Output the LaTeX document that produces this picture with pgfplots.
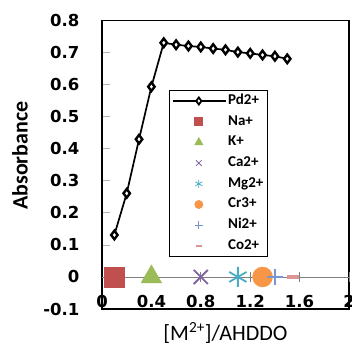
\documentclass[border=0pt]{standalone}
\usepackage{pgfplots}
\pgfplotsset{compat=1.18}
\usepackage{fontspec}
\setmainfont{Carlito}
\newfontfamily\tickfont{DejaVu Sans}
\definecolor{na}{RGB}{192,80,77}
\definecolor{kk}{RGB}{155,187,89}
\definecolor{ca}{RGB}{128,100,162}
\definecolor{mg}{RGB}{75,172,198}
\definecolor{cr}{RGB}{247,150,70}
\definecolor{ni}{RGB}{120,150,205}
\definecolor{co}{RGB}{217,150,148}
\pgfplotsset{mylegend/.style={legend image code/.code={\draw[mark repeat=2,mark phase=2,##1] plot coordinates {(0pt,0pt) (26pt,0pt) (53pt,0pt)};}}}
\begin{document}
\begin{tikzpicture}
\begin{axis}[
  scale only axis,
  width=247pt, height=288.3pt,
  xmin=0, xmax=2, ymin=-0.1, ymax=0.8,
  xtick={0,0.4,0.8,1.2,1.6,2},
  ytick={-0.1,0,0.1,0.2,0.3,0.4,0.5,0.6,0.7,0.8},
  xticklabels={0,0.4,0.8,1.2,1.6,2},
  yticklabels={-0.1,0,0.1,0.2,0.3,0.4,0.5,0.6,0.7,0.8},
  axis line style={black, line width=1.5pt},
  x tick style={draw=none},
  y tick style={gray!60, line width=0.8pt},
  tick align=inside,
  major tick length=8pt,
  ytick pos=left,
  xticklabel style={font=\tickfont\bfseries\fontsize{16.5}{18}\selectfont, anchor=center, yshift=7.5pt},
  yticklabel style={font=\tickfont\bfseries\fontsize{16.5}{18}\selectfont, anchor=east, xshift=-19pt},
  xlabel={[M\textsuperscript{2+}]/AHDDO},
  ylabel={\bfseries Absorbance},
  x label style={font=\fontsize{22}{24}\selectfont, at={(axis description cs:0.5,0)}, anchor=base, yshift=-31.5pt},
  y label style={font=\fontsize{22}{24}\selectfont, at={(axis description cs:-0.332,0.532)}, anchor=center},
  legend style={at={(rel axis cs:0.271,0.760)}, anchor=north west, draw=black, line width=0.8pt,
    font=\bfseries\fontsize{15}{17}\selectfont, row sep=4.7pt, inner sep=2.7pt,
    nodes={inner sep=1.5pt, text height=10pt, text depth=3pt},
    /tikz/every even column/.append style={column sep=2.5pt}},
  legend cell align=left,
  clip=false,
]
\coordinate (sw) at (rel axis cs:0,0);
\coordinate (ne) at (rel axis cs:1,1);
% zero line with ticks
\addplot[gray, line width=0.8pt, forget plot] coordinates {(0,0) (2,0)};
\addplot[only marks, mark=|, mark size=5pt, gray, line width=0.8pt, forget plot] coordinates {(0.4,0) (0.8,0) (1.2,0) (1.6,0) (2,0)};
% Pd2+
\addplot[black, line width=1.7pt, mark=diamond*, mark size=4.3pt, mark options={fill=white, line width=2.4pt}, forget plot] coordinates {
(0.1,0.131) (0.2,0.261) (0.3,0.430) (0.4,0.594) (0.5,0.731) (0.6,0.725) (0.7,0.721) (0.8,0.718)
(0.9,0.713) (1.0,0.709) (1.1,0.702) (1.2,0.698) (1.3,0.693) (1.4,0.689) (1.5,0.681)};
\addplot[only marks, mark=square*, mark size=10pt, color=na, forget plot] coordinates {(0.1,0)};
\addplot[only marks, mark=triangle*, mark size=12pt, color=kk, forget plot] coordinates {(0.4,0)};
\addplot[only marks, mark=x, mark size=10pt, color=ca, line width=1.8pt, forget plot] coordinates {(0.8,0)};
\addplot[only marks, mark=asterisk, mark size=10pt, color=mg, line width=1.8pt, forget plot] coordinates {(1.1,0)};
\addplot[only marks, mark=*, mark size=10pt, color=cr, forget plot] coordinates {(1.3,0)};
\addplot[only marks, mark=+, mark size=8pt, color=ni, line width=1.2pt, forget plot] coordinates {(1.4,0)};
\addplot[only marks, mark=-, mark size=6pt, color=co, line width=3.5pt, forget plot] coordinates {(1.55,0)};
% legend images
\addlegendimage{black, line width=1.6pt, mark=diamond*, mark size=3.5pt, mark options={fill=white, line width=1.8pt}, mylegend}
\addlegendimage{only marks, mark=square*, mark size=4pt, color=na, mylegend}
\addlegendimage{only marks, mark=triangle*, mark size=4.5pt, color=kk, mylegend}
\addlegendimage{only marks, mark=x, mark size=4pt, color=ca, line width=0.8pt, mylegend}
\addlegendimage{only marks, mark=asterisk, mark size=4pt, color=mg, line width=0.8pt, mylegend}
\addlegendimage{only marks, mark=*, mark size=4pt, color=cr, mylegend}
\addlegendimage{only marks, mark=+, mark size=4pt, color=ni, line width=0.8pt, mylegend}
\addlegendimage{only marks, mark=-, mark size=3pt, color=co, line width=2pt, mylegend}
\legend{Pd2+,Na+,K+,Ca2+,Mg2+,Cr3+,Ni2+,Co2+}
\end{axis}
\pgfresetboundingbox
\path ([shift={(-102pt,-37pt)}]sw) rectangle ([shift={(3pt,20.7pt)}]ne);
\end{tikzpicture}
\end{document}
